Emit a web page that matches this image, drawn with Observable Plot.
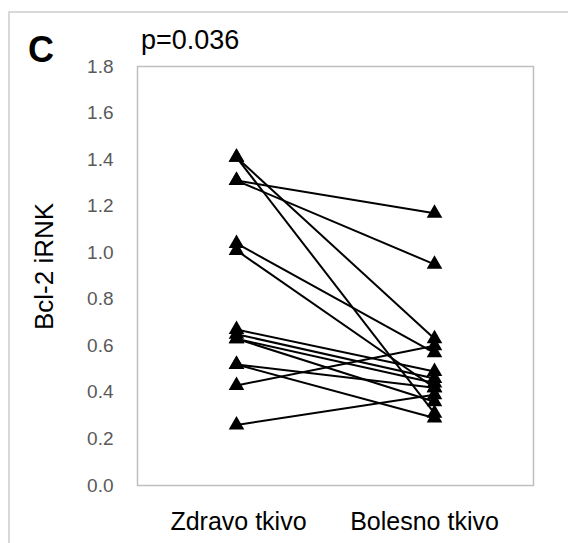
<!DOCTYPE html>
<html><head><meta charset="utf-8">
<script src="https://cdn.jsdelivr.net/npm/d3@7"></script>
<script src="https://cdn.jsdelivr.net/npm/@observablehq/plot@0.6"></script>
<style>
html,body{margin:0;padding:0;background:#fff;overflow:hidden;width:568px;height:543px;}
#wrap{position:relative;width:568px;height:543px;overflow:hidden;}
#frame{position:absolute;left:8px;top:11px;width:620px;height:620px;border-left:2px solid #d9d9d9;border-top:2px solid #d9d9d9;}
#letter{position:absolute;left:28px;top:32px;font:bold 36px "Liberation Sans",Arial,sans-serif;line-height:1;color:#000;}
#pval{position:absolute;left:141px;top:27px;font:27px "Liberation Sans",Arial,sans-serif;line-height:1;color:#000;}
#chart{position:absolute;left:0;top:0;}
</style>
</head><body>
<div id="wrap"><div id="frame"></div><div id="chart"></div><div id="letter">C</div><div id="pval">p=0.036</div></div>
<script>
const categories = ["Zdravo tkivo", "Bolesno tkivo"];
const healthy  = [1.41, 1.41, 1.31, 1.31, 1.04, 1.01, 0.67, 0.65, 0.63, 0.63, 0.52, 0.52, 0.43, 0.26];
const diseased = [0.63, 0.31, 1.17, 0.95, 0.57, 0.42, 0.49, 0.46, 0.44, 0.36, 0.42, 0.29, 0.60, 0.39];
const yTicks = [0, 0.2, 0.4, 0.6, 0.8, 1.0, 1.2, 1.4, 1.6, 1.8];
const yLabel = "Bcl-2 iRNK";

const pairs = healthy.map((h, i) => ({h, d: diseased[i]}));
const points = pairs.flatMap(p => [{cat: categories[0], v: p.h}, {cat: categories[1], v: p.d}]);

const chart = Plot.plot({
  width: 568, height: 543,
  marginLeft: 137, marginRight: 35, marginTop: 66, marginBottom: 58,
  style: {fontFamily: "'Liberation Sans', Arial, sans-serif", background: "transparent"},
  x: {type: "point", domain: categories, padding: 0.5},
  y: {domain: [0, 1.8]},
  marks: [
    Plot.frame({stroke: "#bfbfbf", strokeWidth: 1.5}),
    Plot.axisY({ticks: yTicks, tickSize: 0, tickPadding: 24, tickFormat: d3.format(".1f"), fontSize: 19, fill: "#595959", label: null}),
    Plot.axisX({ticks: [categories[0]], tickSize: 0, tickPadding: 27, fontSize: 25, fill: "#000", label: null, dx: 2}),
    Plot.axisX({ticks: [categories[1]], tickSize: 0, tickPadding: 27, fontSize: 25, fill: "#000", label: null, dx: -10}),
    Plot.text([yLabel], {frameAnchor: "left", textAnchor: "middle", rotate: -90, dx: -93, dy: -9.5, fontSize: 26, fill: "#000"}),
    Plot.link(pairs, {x1: () => categories[0], y1: "h", x2: () => categories[1], y2: "d", stroke: "#000", strokeWidth: 2}),
    Plot.dot(points, {x: "cat", y: "v", symbol: "triangle", r: 5.8, fill: "#000", stroke: "none"})
  ]
});
document.getElementById("chart").appendChild(chart);
</script>
</body></html>
